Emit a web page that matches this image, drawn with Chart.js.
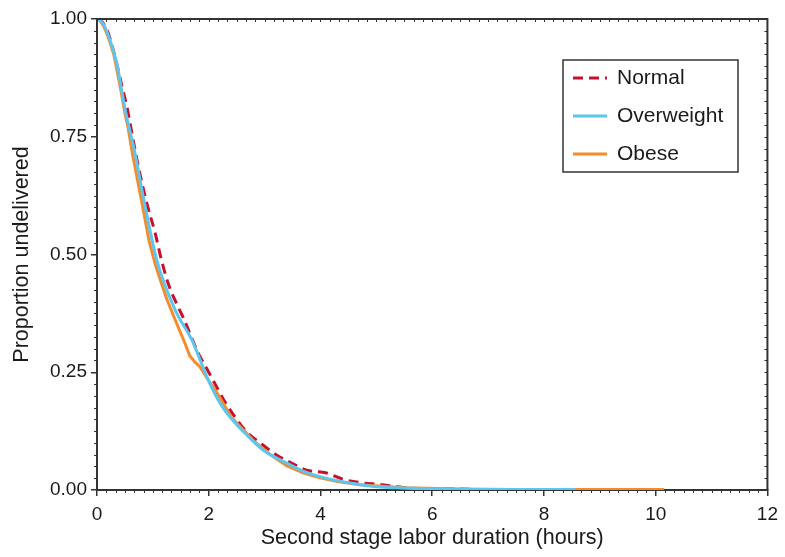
<!DOCTYPE html>
<html>
<head>
<meta charset="utf-8">
<script src="https://cdn.jsdelivr.net/npm/chart.js@4"></script>
<style>
  html, body { margin: 0; padding: 0; background: #fff; }
</style>
</head>
<body>
<canvas id="Chart" width="785" height="557"></canvas>
<script>
// Kaplan-Meier style curves (hours, proportion undelivered)
const normalHours = [0, 0.05, 0.12, 0.2, 0.3, 0.45, 0.54, 0.66, 0.77, 0.9, 1.04, 1.15, 1.27, 1.45, 1.54, 1.81, 2.0, 2.15, 2.3, 2.47, 2.68, 2.92, 3.22, 3.5, 3.76, 4.11, 4.4, 4.76, 5.06, 5.37, 5.6, 6.0, 6.5, 7.0, 7.4];
const normalProp  = [1, 0.998, 0.99, 0.97, 0.93, 0.856, 0.811, 0.735, 0.67, 0.605, 0.546, 0.49, 0.44, 0.389, 0.367, 0.291, 0.25, 0.217, 0.185, 0.155, 0.123, 0.1, 0.074, 0.056, 0.042, 0.036, 0.023, 0.015, 0.012, 0.007, 0.004, 0.003, 0.002, 0.001, 0.001];

const overweightHours = [0, 0.05, 0.125, 0.2, 0.36, 0.5, 0.68, 0.84, 1.07, 1.4, 1.7, 1.99, 2.2, 2.43, 2.74, 2.97, 3.4, 3.69, 4.17, 4.58, 5.0, 5.5, 6.0, 7.0, 8.0, 8.55];
const overweightProp  = [1, 0.998, 0.987, 0.966, 0.902, 0.81, 0.715, 0.615, 0.488, 0.382, 0.318, 0.234, 0.185, 0.148, 0.11, 0.085, 0.057, 0.04, 0.023, 0.014, 0.007, 0.004, 0.002, 0.001, 0.001, 0.001];

const obeseHours = [0, 0.05, 0.12, 0.2, 0.3, 0.41, 0.5, 0.555, 0.64, 0.73, 0.82, 0.93, 1.04, 1.15, 1.25, 1.37, 1.48, 1.58, 1.66, 1.75, 1.84, 2.0, 2.15, 2.28, 2.4, 2.6, 2.79, 3.1, 3.4, 3.7, 3.99, 4.3, 4.7, 5.5, 6.5, 7.5, 8.5, 9.5, 10.15];
const obeseProp  = [1, 0.997, 0.985, 0.962, 0.925, 0.86, 0.8, 0.77, 0.71, 0.655, 0.6, 0.53, 0.48, 0.44, 0.405, 0.37, 0.338, 0.31, 0.285, 0.272, 0.262, 0.232, 0.206, 0.18, 0.155, 0.13, 0.106, 0.075, 0.051, 0.036, 0.026, 0.018, 0.011, 0.005, 0.002, 0.001, 0.001, 0.001, 0.001];

const seriesNames = ["Normal", "Overweight", "Obese"];
const xTicks = [0, 2, 4, 6, 8, 10, 12];
const yTicks = [0, 0.25, 0.5, 0.75, 1];

const FONT = "'Liberation Sans', Arial, sans-serif";
const AXIS = "#333";

function pts(hours, prop) {
  return hours.map(function (h, i) { return { x: h, y: prop[i] }; });
}

// small ticks + closing frame on top/right
const frameTicks = {
  id: "frameTicks",
  afterDraw: function (chart) {
    const ctx = chart.ctx, a = chart.chartArea;
    const x = chart.scales.x, y = chart.scales.y;
    ctx.save();
    ctx.strokeStyle = AXIS;
    ctx.lineWidth = 1;
    ctx.beginPath();
    for (let i = 0; i <= 72; i++) {
      const px = Math.round(x.getPixelForValue(i / 6)) + 0.5;
      if (i % 12 !== 0) { ctx.moveTo(px, a.bottom); ctx.lineTo(px, a.bottom + 3); }
      ctx.moveTo(px, a.top); ctx.lineTo(px, a.top + 3);
    }
    for (let j = 0; j <= 40; j++) {
      const py = Math.round(y.getPixelForValue(j / 40)) + 0.5;
      if (j % 10 !== 0) { ctx.moveTo(a.left, py); ctx.lineTo(a.left - 3, py); }
      ctx.moveTo(a.right, py); ctx.lineTo(a.right - 3, py);
    }
    ctx.stroke();
    ctx.lineWidth = 2;
    ctx.beginPath();
    ctx.moveTo(a.left, a.top); ctx.lineTo(a.right, a.top); ctx.lineTo(a.right, a.bottom);
    ctx.stroke();
    ctx.restore();
  }
};

// boxed legend inside the plot
const boxLegend = {
  id: "boxLegend",
  afterDraw: function (chart) {
    const ctx = chart.ctx;
    const bx = 563, by = 60, bw = 175, bh = 112;
    ctx.save();
    ctx.strokeStyle = AXIS;
    ctx.lineWidth = 1.5;
    ctx.strokeRect(bx, by, bw, bh);
    ctx.font = "21px " + FONT;
    ctx.textBaseline = "middle";
    ctx.fillStyle = "#1a1a1a";
    chart.data.datasets.forEach(function (ds, i) {
      const ry = by + 18 + i * 38;
      ctx.strokeStyle = ds.borderColor;
      ctx.lineWidth = ds.borderWidth;
      ctx.setLineDash(ds.borderDash || []);
      ctx.beginPath();
      ctx.moveTo(bx + 10, ry); ctx.lineTo(bx + 44, ry);
      ctx.stroke();
      ctx.setLineDash([]);
      ctx.fillText(ds.label, bx + 54, ry);
    });
    ctx.restore();
  }
};

const ctx = document.getElementById("Chart").getContext("2d");
new Chart(ctx, {
  type: "line",
  data: {
    datasets: [
      {
        label: seriesNames[0],
        data: pts(normalHours, normalProp),
        borderColor: "#c8102e",
        borderWidth: 3,
        borderDash: [10, 6],
        cubicInterpolationMode: "monotone",
        order: 3
      },
      {
        label: seriesNames[1],
        data: pts(overweightHours, overweightProp),
        borderColor: "#5cc6ee",
        borderWidth: 3,
        cubicInterpolationMode: "monotone",
        order: 1
      },
      {
        label: seriesNames[2],
        data: pts(obeseHours, obeseProp),
        borderColor: "#f58b2a",
        borderWidth: 3,
        tension: 0,
        order: 2
      }
    ]
  },
  options: {
    responsive: false,
    animation: false,
    elements: { point: { radius: 0 } },
    layout: { padding: { top: 19, right: 16, bottom: 0, left: 0 } },
    plugins: { legend: { display: false }, tooltip: { enabled: false } },
    scales: {
      x: {
        type: "linear",
        min: 0,
        max: 12,
        afterFit: function (s) { s.height = 67; },
        afterBuildTicks: function (s) { s.ticks = xTicks.map(function (v) { return { value: v }; }); },
        ticks: { font: { size: 19, family: FONT }, color: "#1a1a1a", padding: 7, maxRotation: 0 },
        grid: { drawOnChartArea: false, tickLength: 6, color: AXIS, lineWidth: 1.5 },
        border: { color: AXIS, width: 2 },
        title: {
          display: true,
          text: "Second stage labor duration (hours)",
          font: { size: 21.5, family: FONT },
          color: "#1a1a1a",
          padding: { top: 0, bottom: 6 }
        }
      },
      y: {
        type: "linear",
        min: 0,
        max: 1,
        afterFit: function (s) { s.width = 97; },
        afterBuildTicks: function (s) { s.ticks = yTicks.map(function (v) { return { value: v }; }); },
        ticks: {
          font: { size: 19, family: FONT },
          color: "#1a1a1a",
          padding: 4,
          callback: function (v) { return Number(v).toFixed(2); }
        },
        grid: { drawOnChartArea: false, tickLength: 6, color: AXIS, lineWidth: 1.5 },
        border: { color: AXIS, width: 2 },
        title: {
          display: true,
          text: "Proportion undelivered",
          font: { size: 21.5, family: FONT },
          color: "#1a1a1a",
          padding: { top: 9, bottom: 0 }
        }
      }
    }
  },
  plugins: [frameTicks, boxLegend]
});
</script>
</body>
</html>
